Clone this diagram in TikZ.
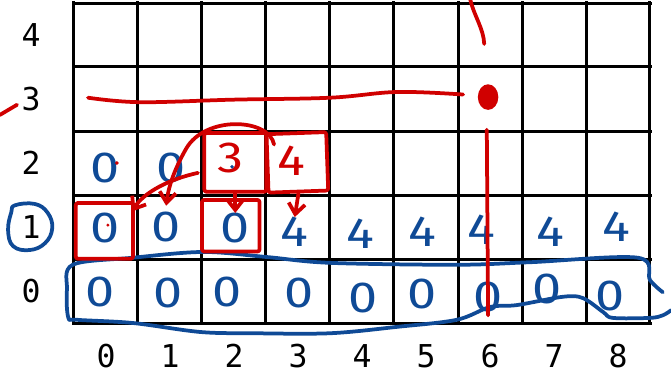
\documentclass[tikz,border=0pt]{standalone}
\usepackage{fontspec}
\usepackage{xcolor}
\usepackage{tikz}
\usetikzlibrary{arrows.meta}
\newfontfamily\gridfont{DejaVu Sans Mono}
\newfontfamily\inkfont{Fira Sans}[FakeStretch=1.2]
\definecolor{penred}{HTML}{D00000}
\definecolor{penblue}{HTML}{0F4A96}
\newcommand{\inkrow}[2]{%
  \foreach \i/\px/\py/\dig in {#2}{
    \node[ink] (h#1-\i) at (\px,\py) {\dig};}}

\begin{document}
\begin{tikzpicture}[x=1.5cm, y=1.5cm, line cap=round, line join=round,
  ink/.style={text=penblue, font=\inkfont\fontsize{29}{32}\selectfont, inner sep=0pt},
  redink/.style={ink, text=penred},
  tick/.style={font=\gridfont\fontsize{21}{24}\selectfont, inner sep=0pt},
  pen/.style={line width=2.5pt},
  redbox/.style={draw=penred, pen, rounded corners=1.5pt, inner sep=0pt},
  barb/.style={-{Straight Barb[length=7pt, width=11pt, line width=2.5pt]}}]
  \useasboundingbox (-1.156,-0.781) rectangle (9.328,5.047);
  \draw[line width=2pt, line cap=rect, step=1.5cm] (0,0) grid (9,5);
  \foreach \i in {0,...,8}{\node[tick] (col\i) at (\i+0.5,-0.52) {\i};}
  \foreach \i in {0,...,4}{\node[tick] (row\i) at (-0.67,\i+0.5) {\i};}

  % the pen writing sits a little off the cell centres, as written by hand
  \inkrow{0}{0/0.41/0.48/0, 1/1.47/0.47/0, 2/2.39/0.48/0, 3/3.52/0.47/0, 4/4.52/0.39/0,
    5/5.44/0.45/0, 6/6.47/0.41/0, 7/7.39/0.53/0, 8/8.38/0.42/0}
  \inkrow{1}{0/0.48/1.48/0, 1/1.44/1.5/0, 2/2.52/1.48/0, 3/3.45/1.42/4, 4/4.47/1.4/4,
    5/5.45/1.42/4, 6/6.37/1.45/4, 7/7.44/1.42/4, 8/8.48/1.5/4}
  \inkrow{2}{0/0.48/2.42/0, 1/1.52/2.42/0}
  \node[redink] (h2-2) at (2.44,2.58) {3};
  \node[redink] (h2-3) at (3.39,2.53) {4};

  \draw[pen, penblue] plot[smooth, tension=0.55] coordinates {(9.2,0.48) (9.0,0.67) (8.81,1.02)
    (7.13,0.95) (5.98,0.91) (4.0,0.94) (3.02,1.03) (2.02,1.11) (0.92,1.02) (-0.02,0.91)
    (-0.11,0.52) (-0.09,0.09) (0.05,0.05) (0.92,0.0) (1.97,-0.14) (2.8,-0.16) (4.0,-0.16)
    (5.05,-0.06) (5.98,0.05) (6.5,0.25) (6.92,0.28) (7.64,0.41) (7.95,0.39) (8.27,0.17)
    (8.42,0.08) (9.0,0.08) (9.2,0.12) (9.33,0.2)};
  \draw[pen, penblue] plot[smooth cycle, tension=0.7] coordinates {(-0.92,1.84) (-0.61,1.86)
    (-0.41,1.72) (-0.34,1.48) (-0.45,1.25) (-0.69,1.14) (-0.95,1.20) (-1.03,1.45) (-0.98,1.73)};

  \node[redbox, minimum width=1.45cm, minimum height=1.38cm] (b3) at (2.52,2.51) {};
  \node[redbox, minimum width=1.40cm, minimum height=1.37cm, rotate=2] (b4) at (3.49,2.51) {};
  \node[redbox, minimum width=1.34cm, minimum height=1.31cm] (f1-0) at (0.475,1.44) {};
  \node[redbox, minimum width=1.35cm, minimum height=1.21cm] (f1-2) at (2.45,1.52) {};
  \draw[pen, penred, barb] (b3.south) -- (h1-2.north);
  \draw[pen, penred, barb] (b4.south) -- (h1-3.north);
  \draw[pen, penred, barb] ([shift={(-3pt,-7pt)}]b3.west) .. controls (1.5,2.25) and (1.1,2.05)
    .. ([shift={(-2pt,-7pt)}]f1-0.north east);
  \draw[pen, penred, barb] ([shift={(4pt,-9pt)}]b3.north east) .. controls (3.05,3.2) and (2.05,3.25)
    .. (1.75,2.72) .. controls (1.58,2.42) and (1.48,2.15) .. ([yshift=4pt]h1-1.north);

  \draw[pen, penred] (-1.16,3.25) -- (-0.89,3.41);
  \draw[pen, penred] plot[smooth, tension=0.6] coordinates {(0.22,3.52) (1.03,3.45) (2.5,3.49)
    (4.0,3.52) (5.05,3.61) (6.08,3.57)};
  \fill[penred] (6.47,3.53) ellipse [x radius=0.16, y radius=0.2];
  \draw[pen, penred] (6.19,5.06) .. controls (6.25,4.8) and (6.4,4.6) .. (6.41,4.36);
  \draw[pen, penred] (6.45,3.02) -- (6.47,0.12);
  \fill[penred] (0.67,2.5) circle (0.03);
  \fill[penred] (0.53,1.53) circle (0.025);
  \fill[penblue] (2.47,2.44) circle (0.03);
\end{tikzpicture}
\end{document}
